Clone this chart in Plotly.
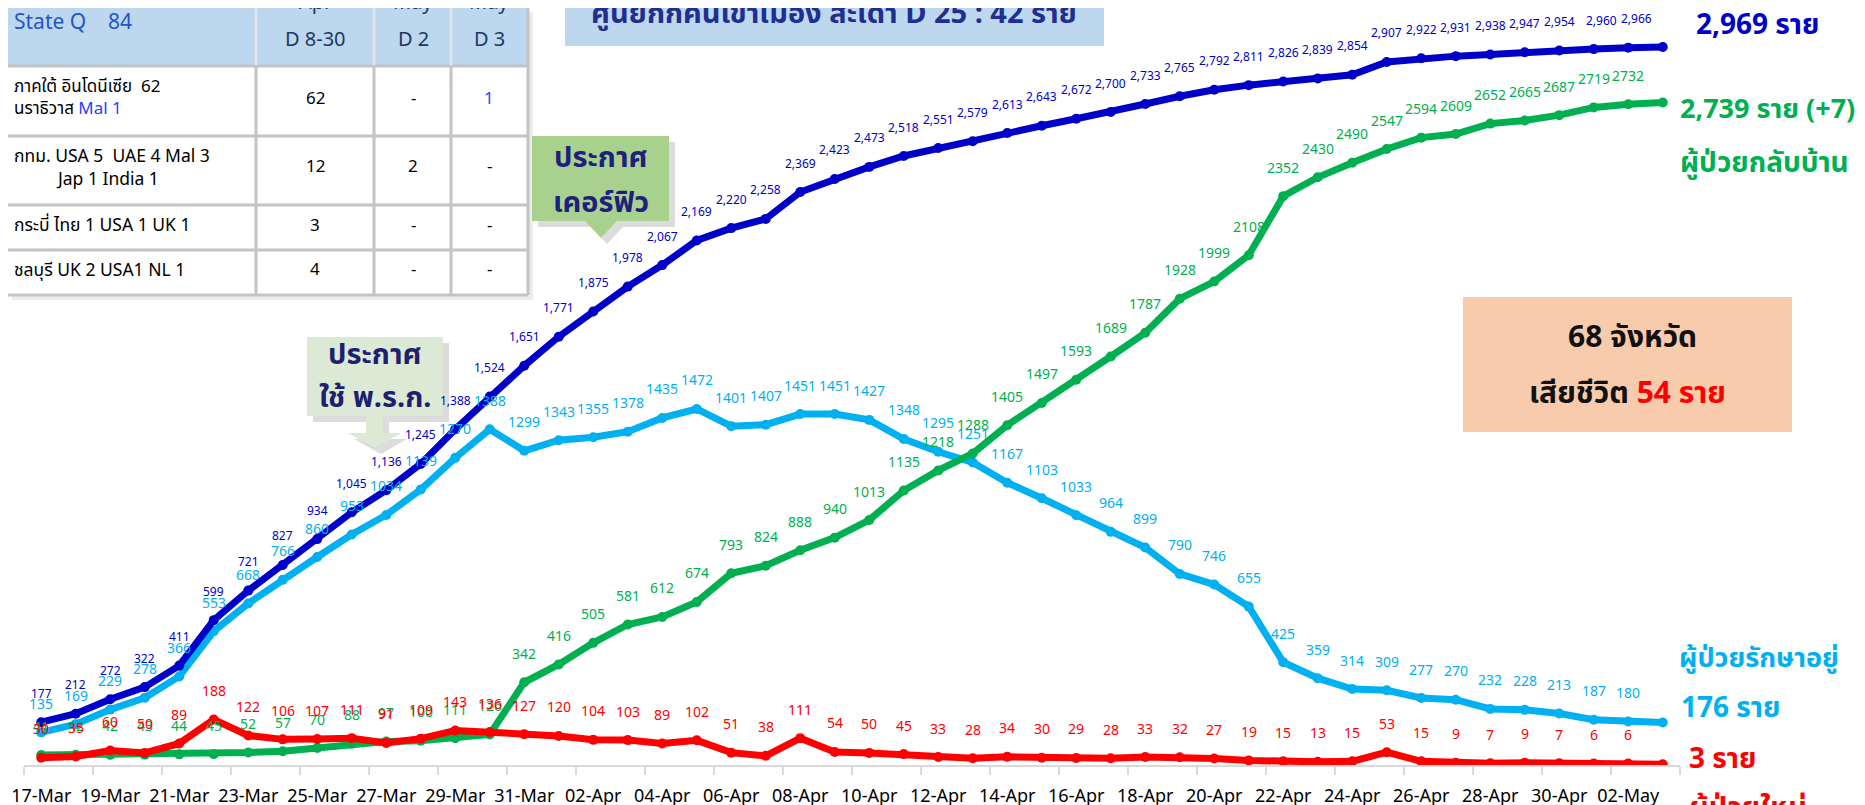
import plotly.graph_objects as go

# ---------------- data ----------------
dates = ["17-Mar", "18-Mar", "19-Mar", "20-Mar", "21-Mar", "22-Mar", "23-Mar", "24-Mar",
         "25-Mar", "26-Mar", "27-Mar", "28-Mar", "29-Mar", "30-Mar", "31-Mar",
         "01-Apr", "02-Apr", "03-Apr", "04-Apr", "05-Apr", "06-Apr", "07-Apr", "08-Apr",
         "09-Apr", "10-Apr", "11-Apr", "12-Apr", "13-Apr", "14-Apr", "15-Apr", "16-Apr",
         "17-Apr", "18-Apr", "19-Apr", "20-Apr", "21-Apr", "22-Apr", "23-Apr", "24-Apr",
         "25-Apr", "26-Apr", "27-Apr", "28-Apr", "29-Apr", "30-Apr",
         "01-May", "02-May", "03-May"]

total_cases = [177, 212, 272, 322, 411, 599, 721, 827, 934, 1045, 1136, 1245, 1388, 1524, 1651,
               1771, 1875, 1978, 2067, 2169, 2220, 2258, 2369, 2423, 2473, 2518, 2551, 2579,
               2613, 2643, 2672, 2700, 2733, 2765, 2792, 2811, 2826, 2839, 2854, 2907, 2922,
               2931, 2938, 2947, 2954, 2960, 2966, 2969]

in_hospital = [135, 169, 229, 278, 366, 553, 668, 766, 860, 953, 1034, 1139, 1270, 1388, 1299,
               1343, 1355, 1378, 1435, 1472, 1401, 1407, 1451, 1451, 1427, 1348, 1295, 1251,
               1167, 1103, 1033, 964, 899, 790, 746, 655, 425, 359, 314, 309, 277, 270, 232,
               228, 213, 187, 180, 176]

recovered = [41, 42, 42, 43, 44, 45, 52, 57, 70, 88, 97, 100, 111, 126, 342,
             416, 505, 581, 612, 674, 793, 824, 888, 940, 1013, 1135, 1218, 1288, 1405,
             1497, 1593, 1689, 1787, 1928, 1999, 2108, 2352, 2430, 2490, 2547, 2594, 2609,
             2652, 2665, 2687, 2719, 2732, 2739]

new_cases = [30, 35, 60, 50, 89, 188, 122, 106, 107, 111, 91, 109, 143, 136, 127,
             120, 104, 103, 89, 102, 51, 38, 111, 54, 50, 45, 33, 28, 34, 30, 29, 28,
             33, 32, 27, 19, 15, 13, 15, 53, 15, 9, 7, 9, 7, 6, 6, 3]

tick_labels = dates[::2]

# ---------------- geometry helpers (pixel -> paper) ----------------
W, H = 1865, 805
L, R, T, B = 16, 1672, 0, 757


def px(x):
    return (x - L) / (R - L)


def py(y):
    return (B - y) / (B - T)


FONT = "Tahoma, 'Noto Sans', 'Noto Sans Thai', 'DejaVu Sans', sans-serif"
NB = "\u00a0"

C_TOTAL = "#0000C8"
C_HOSP = "#00B0F0"
C_REC = "#00B050"
C_NEW = "#FF0000"

xs = list(range(len(dates)))

fig = go.Figure()

series = [
    (in_hospital, C_HOSP, "ผู้ป่วยรักษาอยู่"),
    (recovered, C_REC, "ผู้ป่วยกลับบ้าน"),
    (total_cases, C_TOTAL, "ผู้ป่วยสะสม"),
    (new_cases, C_NEW, "ผู้ป่วยใหม่"),
]
for vals, col, name in series:
    fig.add_trace(go.Scatter(
        x=xs, y=vals, mode="lines+markers", name=name,
        line=dict(color=col, width=7),
        marker=dict(color=col, size=10),
        showlegend=False, hoverinfo="skip",
    ))

annotations = []

# data labels (all but the last point)
label_specs = [
    (total_cases, "#0000CC", 12, True),
    (in_hospital, C_HOSP, 14, False),
    (recovered, C_REC, 14, False),
    (new_cases, C_NEW, 14, False),
]
for vals, col, size, comma in label_specs:
    for i in range(len(vals) - 1):
        txt = f"{vals[i]:,}" if comma else str(vals[i])
        xshift = 8 if (comma and i >= len(vals) - 3) else 0
        annotations.append(dict(
            x=xs[i], y=vals[i], xref="x", yref="y", text=txt, showarrow=False,
            yshift=29, xshift=xshift, xanchor="center", yanchor="middle",
            font=dict(family=FONT, size=size, color=col),
        ))

shapes = []


def rect(x0, y0, x1, y1, fill, line_color=None, line_width=0, opacity=1.0):
    shapes.append(dict(
        type="rect", xref="paper", yref="paper",
        x0=px(x0), x1=px(x1), y0=py(y1), y1=py(y0),
        fillcolor=fill, opacity=opacity,
        line=dict(color=line_color or fill, width=line_width),
        layer="above",
    ))


def seg(x0, y0, x1, y1, color, width):
    shapes.append(dict(
        type="line", xref="paper", yref="paper",
        x0=px(x0), x1=px(x1), y0=py(y0), y1=py(y1),
        line=dict(color=color, width=width), layer="above",
    ))


def poly(points, fill, opacity=1.0):
    path = "M " + " L ".join(f"{px(a)},{py(b)}" for a, b in points) + " Z"
    shapes.append(dict(type="path", xref="paper", yref="paper", path=path,
                       fillcolor=fill, line=dict(width=0), opacity=opacity, layer="above"))


def text(x, y, s, size, color, xanchor="center", bold=False):
    annotations.append(dict(
        x=px(x), y=py(y), xref="paper", yref="paper", text=(f"<b>{s}</b>" if bold else s),
        showarrow=False, xanchor=xanchor, yanchor="middle",
        font=dict(family=FONT, size=size, color=color),
    ))


# ---------------- table (top-left) ----------------
rect(4, 4, 525, 292, "#E4E4E4", opacity=0.7)          # shadow
rect(-2, 0, 520, 287, "#FFFFFF")
rect(-2, 0, 520, 58, "#BDD7EE")
for yy in [58, 128, 197, 242, 287]:
    seg(-2, yy, 520, yy, "#C4C4C4", 3)
for xx in [248, 366, 443, 520]:
    seg(xx, 0, xx, 287, "#C4C4C4", 3)
for xx in [248, 366, 443]:
    seg(xx, 0, xx, 57, "#DCE8F4", 3)

text(4, 13, f"State Q{NB*4}84", 21, "#2155CD", xanchor="left")
text(307, -6, "Apr", 20, "#203864")
text(307, 30, "D 8-30", 20, "#203864")
text(405, -6, "May", 20, "#203864")
text(405, 30, "D 2", 20, "#203864")
text(481, -6, "May", 20, "#203864")
text(481, 30, "D 3", 20, "#203864")

text(4, 77, f"ภาคใต้ อินโดนีเซีย{NB*2}62", 17, "#000000", xanchor="left")
text(4, 100, "นราธิวาส <span style='color:#1F3FFF'>Mal 1</span>", 17, "#000000", xanchor="left")
text(307, 89, "62", 17, "#000000")
text(405, 89, "-", 17, "#000000")
text(481, 89, "1", 17, "#1F3FFF")

text(4, 147, f"กทม. USA 5{NB*2}UAE 4 Mal 3", 17.5, "#000000", xanchor="left")
text(46, 170, "Jap 1 India 1", 17.5, "#000000", xanchor="left")
text(307, 157, "12", 17, "#000000")
text(405, 157, "2", 17, "#000000")
text(481, 157, "-", 17, "#000000")

text(4, 216, "กระบี่ ไทย 1 USA 1 UK 1", 17.5, "#000000", xanchor="left")
text(307, 216, "3", 17, "#000000")
text(405, 216, "-", 17, "#000000")
text(481, 216, "-", 17, "#000000")

text(4, 261, "ชลบุรี UK 2 USA1 NL 1", 17.5, "#000000", xanchor="left")
text(307, 261, "4", 17, "#000000")
text(405, 261, "-", 17, "#000000")
text(481, 261, "-", 17, "#000000")

# ---------------- title box (cut at top) ----------------
rect(557, -5, 1096, 38, "#BDD7EE")
text(826, 3, "ศูนย์กักคนเข้าเมือง สะเดา D 25 : 42 ราย", 29, "#1F2F8F", bold=True)

# ---------------- callout: curfew ----------------
rect(530, 134, 667, 219, "#BFBFBF", opacity=0.55)
poly([(583, 219), (615, 219), (599, 236)], "#BFBFBF", opacity=0.55)
rect(524, 128, 661, 213, "#A9D18E")
poly([(577, 213), (609, 213), (593, 230)], "#A9D18E")
text(593, 148, "ประกาศ", 29, "#1F1F7F", bold=True)
text(593, 192, "เคอร์ฟิว", 29, "#1F1F7F", bold=True)

# ---------------- callout: emergency decree ----------------
rect(305, 335, 441, 414, "#BFBFBF", opacity=0.55)
poly([(364, 414), (381, 414), (381, 431), (399, 431), (373, 446), (346, 431), (364, 431)],
     "#BFBFBF", opacity=0.55)
rect(299, 329, 435, 408, "#DCE9D5")
poly([(358, 408), (375, 408), (375, 425), (393, 425), (367, 440), (340, 425), (358, 425)],
     "#DCE9D5")
text(367, 345, "ประกาศ", 29, "#1F1F6F", bold=True)
text(367, 388, "ใช้ พ.ร.ก.", 29, "#1F1F6F", bold=True)

# ---------------- deaths box ----------------
rect(1455, 289, 1784, 424, "#F8CBAD")
text(1624, 327, "68 จังหวัด", 30, "#111111", bold=True)
text(1619, 383, "เสียชีวิต <span style='color:#FF0000'>54 ราย</span>", 30, "#111111", bold=True)

# ---------------- right-hand end labels ----------------
text(1686, 15, f"{total_cases[-1]:,} ราย", 28, C_TOTAL, xanchor="left", bold=True)
text(1670, 100, f"{recovered[-1]:,} ราย (+7)", 27, C_REC, xanchor="left", bold=True)
text(1670, 153, "ผู้ป่วยกลับบ้าน", 28, C_REC, xanchor="left", bold=True)
text(1669, 648, "ผู้ป่วยรักษาอยู่", 27, C_HOSP, xanchor="left", bold=True)
text(1671, 698, f"{in_hospital[-1]} ราย", 28, C_HOSP, xanchor="left", bold=True)
text(1679, 749, f"{new_cases[-1]} ราย", 28, C_NEW, xanchor="left", bold=True)
text(1679, 797, "ผู้ป่วยใหม่", 29, C_NEW, xanchor="left", bold=True)

fig.update_layout(
    width=W, height=H,
    margin=dict(l=L, r=W - R, t=T, b=H - B, pad=0),
    paper_bgcolor="#FFFFFF", plot_bgcolor="#FFFFFF",
    showlegend=False,
    annotations=annotations,
    shapes=shapes,
    xaxis=dict(
        range=[-0.5, len(dates) - 0.5],
        tickmode="array", tickvals=xs[::2], ticktext=tick_labels,
        ticks="", showgrid=False, zeroline=False,
        showline=True, linecolor="#D9D9D9", linewidth=2,
        tickfont=dict(family=FONT, size=18, color="#000000"),
        ticklabelstandoff=13,
        minor=dict(tickmode="linear", tick0=-0.5, dtick=2, ticks="outside",
                   ticklen=8, tickwidth=2, tickcolor="#D9D9D9", showgrid=False),
    ),
    yaxis=dict(range=[0, 3130], visible=False, showgrid=False, zeroline=False),
)

fig.write_html("out.html")
